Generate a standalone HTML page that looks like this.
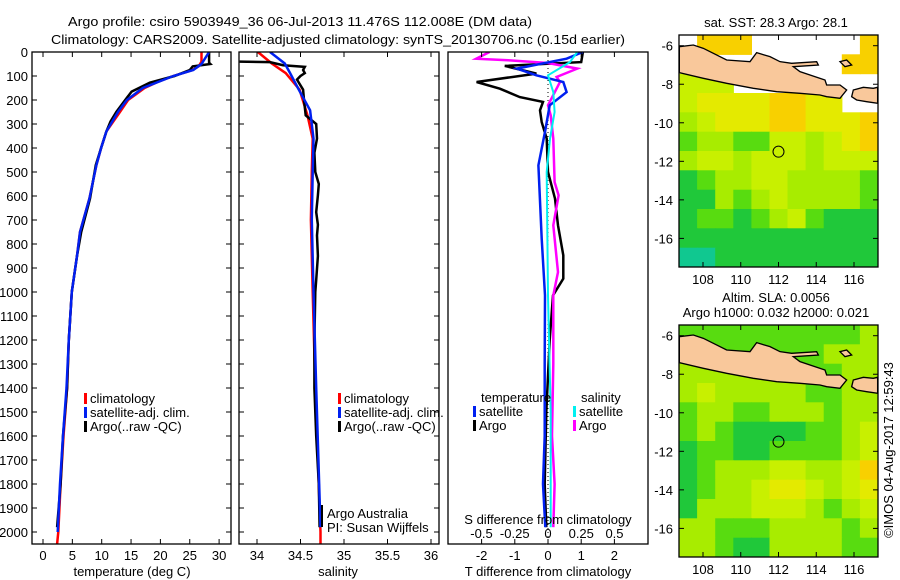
<!DOCTYPE html>
<html><head><meta charset="utf-8"><style>
body{margin:0;background:#fff;}
svg{display:block;font-family:"Liberation Sans",sans-serif;}
text{font-size:13px;fill:#000;}
</style></head><body>
<svg id="fig" width="900" height="580" viewBox="0 0 900 580">
<rect width="900" height="580" fill="#fff"/>
<text x="68" y="26" textLength="464" lengthAdjust="spacingAndGlyphs">Argo profile: csiro 5903949_36 06-Jul-2013 11.476S 112.008E (DM data)</text>
<text x="51" y="44" textLength="574" lengthAdjust="spacingAndGlyphs">Climatology: CARS2009. Satellite-adjusted climatology: synTS_20130706.nc (0.15d earlier)</text>
<g id="panels"></g>
<g id="maps"></g>
<text transform="translate(893,450) rotate(-90)" text-anchor="middle">©IMOS 04-Aug-2017 12:59:43</text>
</svg>
<script>
// ---------- data ----------
const depthTClim=[0,40,60,75,100,125,150,200,250,331,400,471,611,750,850,1000,1200,1400,1600,1800,2000,2050];
const tempClim=[27.0,27.0,26.5,25.5,22.2,19.5,17.3,14.5,13.1,10.8,9.9,9.1,7.9,6.3,5.8,4.9,4.4,4.1,3.5,3.0,2.6,2.4];
const depthTSat=[0,50,75,100,150,200,249,331,400,471,611,750,850,1000,1200,1400,1600,1800,2000];
const tempSat=[28.3,27.0,25.6,22.2,17.0,14.3,12.8,10.8,9.9,9.1,7.9,6.3,5.8,4.9,4.4,4.0,3.4,2.9,2.5];
const depthTArgo=[0,45,50,60,75,100,128,165,200,249,290,331,400,471,611,750,850,1000,1200,1400,1600,1800,1980];
const tempArgo=[28.3,28.3,28.5,25.5,25.0,22.4,18.2,15.1,14.0,12.5,11.5,10.8,9.9,9.0,8.0,6.5,5.8,4.9,4.4,4.1,3.4,3.0,2.4];

const depthSClim=[0,48,88,157,264,361,500,700,1000,1400,2000,2050];
const salClim=[34.01,34.17,34.33,34.49,34.58,34.64,34.63,34.62,34.64,34.67,34.73,34.73];
const depthSSat=[0,48,88,157,243,361,500,700,1000,1400,1980];
const salSat=[34.15,34.32,34.38,34.48,34.61,34.65,34.64,34.63,34.65,34.68,34.73];
const depthSArgo=[40,42,55,62,75,88,100,115,157,200,264,300,361,420,500,550,597,667,720,764,850,950,1000,1200,1400,1600,1800,1980];
const salArgo=[33.8,34.15,34.3,34.55,34.53,34.55,34.50,34.46,34.53,34.54,34.56,34.68,34.69,34.66,34.67,34.71,34.70,34.68,34.70,34.69,34.70,34.68,34.67,34.66,34.66,34.68,34.71,34.72];

const depthDTArgo=[0,42,58,90,125,153,188,208,243,292,361,500,611,722,847,944,1014,1200,1500,1800,1980];
const diffTArgo=[1.05,1.0,-1.3,-0.35,-2.15,-1.45,-0.85,-0.15,-0.24,-0.19,-0.04,0.0,0.21,0.3,0.46,0.46,0.15,0.05,-0.05,-0.1,-0.05];
const depthDTSat=[0,28,69,97,125,167,222,333,472,778,1014,1300,1600,1800,1980];
const diffTSat=[1.05,0.56,-0.94,-0.35,0.46,0.56,0.05,-0.09,-0.29,-0.19,-0.09,-0.1,-0.1,-0.15,-0.08];
const depthDSArgo=[0,28,34,46,69,104,125,222,264,361,542,597,722,917,1014,1300,1600,1800,1980];
const diffSArgo=[-0.44,-0.54,-0.3,0.0,0.22,0.065,0.09,0.0,0.02,0.04,0.05,0.08,0.04,0.075,0.04,0.04,0.03,0.05,0.04];
const depthDSSat=[0,42,97,167,250,361,500,1014,1500,1980];
const diffSSat=[0.22,0.165,0.0,0.04,0.05,0.015,-0.01,0.0,0.02,0.02];

const depthTicks=[0,100,200,300,400,500,600,700,800,900,1000,1100,1200,1300,1400,1500,1600,1700,1800,1900,2000];
const tempTicks=[0,5,10,15,20,25,30];
const salTicks=[34,34.5,35,35.5,36];
const salTickLabels=["34","34.5","35","35.5","36"];
const dTTicks=[-2,-1,0,1,2];
const dSTicks=[-0.5,-0.25,0,0.25,0.5];
const dSTickLabels=["-0.5","-0.25","0","0.25","0.5"];

const latTicks=[-6,-8,-10,-12,-14,-16];
const lonTicks=[108,110,112,114,116];
// SST grid classes (rows -6..-17 lat, cols 107..117 lon), -1 = no data
const sstGrid=[
[-1,6,6,6,-1,-1,-1,-1,-1,-1,6],
[-1,-1,-1,-1,-1,-1,-1,-1,-1,6,6],
[4,4,4,-1,-1,-1,-1,-1,-1,-1,-1],
[4,5,5,5,5,6,6,5,5,-1,-1],
[3,4,5,5,5,6,6,5,5,5,6],
[2,3,3,2,2,4,4,3,4,5,6],
[3,4,4,3,4,4,4,3,4,4,4],
[1,2,3,3,4,4,3,3,3,3,2],
[1,1,3,2,3,4,3,3,3,3,2],
[1,2,2,1,2,3,4,2,1,1,1],
[1,1,1,1,1,1,1,1,1,1,1],
[0,0,1,1,1,1,1,1,1,1,1]];
const slaGrid=[
[2,2,2,2,2,2,2,2,2,2,3],
[2,2,2,2,2,2,2,2,3,3,3],
[3,3,3,3,3,3,2,2,2,3,3],
[3,4,3,3,3,3,3,2,2,3,3],
[2,3,3,2,2,3,3,3,2,3,3],
[2,3,2,1,1,1,1,2,2,3,4],
[1,2,2,1,1,2,2,2,2,3,4],
[1,2,3,3,3,4,4,3,3,4,6],
[1,2,3,3,4,5,5,4,3,4,5],
[1,3,3,3,4,4,4,3,2,3,4],
[3,3,2,2,2,3,3,3,3,2,3],
[3,3,2,1,1,3,3,3,3,2,2]];
const palette=["#10c890","#20c83a","#58dc10","#a8ec00","#c8f000","#e4ea00","#f8d000","#f0a800"];

// ---------- helpers ----------
const NS="http://www.w3.org/2000/svg";
function mk(tag,attrs,parent){const e=document.createElementNS(NS,tag);for(const k in attrs)e.setAttribute(k,attrs[k]);parent.appendChild(e);return e;}
const panels=document.getElementById('panels');
const maps=document.getElementById('maps');
const TOP=52,BOT=544;
const yD=d=>TOP+d*0.24;

function drawLine(g,depths,vals,xf,color,w,name){
  const pts=depths.map((d,i)=>xf(vals[i]).toFixed(1)+','+yD(d).toFixed(1)).join(' ');
  const p=mk('polyline',{points:pts,fill:'none',stroke:color,'stroke-width':w,'stroke-linejoin':'miter'},g);
  
  
}
function panelBox(x0,x1,name){
  const g=mk('g',{},panels);
  
  
  const cid='clip'+name;
  const cp=mk('clipPath',{id:cid},g);mk('rect',{x:x0,y:TOP,width:x1-x0,height:BOT-TOP},cp);
  const inner=mk('g',{'clip-path':'url(#'+cid+')'},g);
  return {g,inner};
}
function legendItem(g,x,y,color,label,name){
  mk('rect',{x:x,y:y-10,width:3,height:11,fill:color},g);
  const t=mk('text',{x:x+6,y:y},g);t.textContent=label;
  
  
}

// ---------- panel 1: temperature ----------
(function(){
  const x0=32,x1=231,xT=v=>43+v*5.87;
  const {g,inner}=panelBox(x0,x1,'temperature-panel');
  drawLine(inner,depthTClim,tempClim,xT,'#f00',2.5,'temperature-climatology-line');
  drawLine(inner,depthTArgo,tempArgo,xT,'#000',2.5,'temperature-argo-line');
  drawLine(inner,depthTSat,tempSat,xT,'#0020f0',2.5,'temperature-satellite-line');
  mk('rect',{x:x0,y:TOP,width:x1-x0,height:BOT-TOP,fill:'none',stroke:'#000','stroke-width':1.3},g);
  depthTicks.forEach(d=>{
    mk('line',{x1:x0,x2:x0+5,y1:yD(d),y2:yD(d),stroke:'#000'},g);
    mk('line',{x1:x1,x2:x1-5,y1:yD(d),y2:yD(d),stroke:'#000'},g);
    const t=mk('text',{x:28,y:yD(d)+5,'text-anchor':'end'},g);t.textContent=d;
    
    
  });
  tempTicks.forEach(v=>{
    mk('line',{x1:xT(v),x2:xT(v),y1:BOT,y2:BOT-5,stroke:'#000'},g);
    mk('line',{x1:xT(v),x2:xT(v),y1:TOP,y2:TOP+5,stroke:'#000'},g);
    const t=mk('text',{x:xT(v),y:560,'text-anchor':'middle'},g);t.textContent=v;
    
    
  });
  const xl=mk('text',{x:132,y:576,'text-anchor':'middle'},g);xl.textContent='temperature (deg C)';
  
  
  legendItem(g,84,403,'#f00','climatology','legend-climatology');
  legendItem(g,84,417,'#0020f0','satellite-adj. clim.','legend-satellite-adj');
  legendItem(g,84,431,'#000','Argo(..raw -QC)','legend-argo');
})();

// ---------- panel 2: salinity ----------
(function(){
  const x0=239,x1=439,xS=v=>257+(v-34)*87;
  const {g,inner}=panelBox(x0,x1,'salinity-panel');
  drawLine(inner,depthSClim,salClim,xS,'#f00',2.5,'salinity-climatology-line');
  drawLine(inner,depthSArgo,salArgo,xS,'#000',2.5,'salinity-argo-line');
  drawLine(inner,depthSSat,salSat,xS,'#0020f0',2.5,'salinity-satellite-line');
  mk('rect',{x:x0,y:TOP,width:x1-x0,height:BOT-TOP,fill:'none',stroke:'#000','stroke-width':1.3},g);
  depthTicks.forEach(d=>{
    mk('line',{x1:x0,x2:x0+5,y1:yD(d),y2:yD(d),stroke:'#000'},g);
    mk('line',{x1:x1,x2:x1-5,y1:yD(d),y2:yD(d),stroke:'#000'},g);
  });
  salTicks.forEach((v,i)=>{
    mk('line',{x1:xS(v),x2:xS(v),y1:BOT,y2:BOT-5,stroke:'#000'},g);
    mk('line',{x1:xS(v),x2:xS(v),y1:TOP,y2:TOP+5,stroke:'#000'},g);
    const t=mk('text',{x:xS(v),y:560,'text-anchor':'middle'},g);t.textContent=salTickLabels[i];
    
    
  });
  const xl=mk('text',{x:338,y:576,'text-anchor':'middle'},g);xl.textContent='salinity';
  
  
  legendItem(g,338,403,'#f00','climatology','legend-climatology');
  legendItem(g,338,417,'#0020f0','satellite-adj. clim.','legend-satellite-adj');
  legendItem(g,338,431,'#000','Argo(..raw -QC)','legend-argo');
  mk('rect',{x:321,y:505,width:2,height:22,fill:'#000'},g);
  const a=mk('text',{x:327,y:518},g);a.textContent='Argo Australia';
  
  
  const b=mk('text',{x:327,y:532},g);b.textContent='PI: Susan Wijffels';
  
  
})();

// ---------- panel 3: differences ----------
(function(){
  const x0=448,x1=648,xT=v=>548+v*33.2,xS=v=>548+v*133;
  const {g,inner}=panelBox(x0,x1,'difference-panel');
  mk('line',{x1:548,x2:548,y1:TOP,y2:BOT,stroke:'#000','stroke-dasharray':'1,3'},inner);
  drawLine(inner,depthDTArgo,diffTArgo,xT,'#000',2.5,'temp-diff-argo-line');
  drawLine(inner,depthDSArgo,diffSArgo,xS,'#f0f',2.5,'sal-diff-argo-line');
  drawLine(inner,depthDTSat,diffTSat,xT,'#0020f0',2.5,'temp-diff-satellite-line');
  drawLine(inner,depthDSSat,diffSSat,xS,'#00f0f0',2,'sal-diff-satellite-line');
  mk('rect',{x:x0,y:TOP,width:x1-x0,height:BOT-TOP,fill:'none',stroke:'#000','stroke-width':1.3},g);
  dTTicks.forEach(v=>{
    mk('line',{x1:xT(v),x2:xT(v),y1:BOT,y2:BOT-5,stroke:'#000'},g);
    mk('line',{x1:xT(v),x2:xT(v),y1:TOP,y2:TOP+5,stroke:'#000'},g);
    const t=mk('text',{x:xT(v),y:560,'text-anchor':'middle'},g);t.textContent=v;
    
    
  });
  dSTicks.forEach((v,i)=>{
    const t=mk('text',{x:xS(v),y:538,'text-anchor':'middle'},g);t.textContent=dSTickLabels[i];
    
    
  });
  const s=mk('text',{x:548,y:524,'text-anchor':'middle'},g);s.textContent='S difference from climatology';
  
  
  const xl=mk('text',{x:548,y:576,'text-anchor':'middle'},g);xl.textContent='T difference from climatology';
  
  
  const t1=mk('text',{x:481,y:402},g);t1.textContent='temperature';
  
  
  const t2=mk('text',{x:581,y:402},g);t2.textContent='salinity';
  
  
  legendItem(g,473,416,'#0020f0','satellite','legend-temp-satellite');
  legendItem(g,473,430,'#000','Argo','legend-temp-argo');
  legendItem(g,573,416,'#00f0f0','satellite','legend-sal-satellite');
  legendItem(g,573,430,'#f0f','Argo','legend-sal-argo');
})();

// ---------- maps ----------
const JAVA="58,140 100,135 130,145 160,160 200,180 270,185 290,158 330,170 360,185 395,190 470,185 475,195 400,200 420,215 495,240 500,255 540,255 560,270 540,295 500,290 480,285 420,280 350,275 280,265 200,250 130,235 58,218";
const BALI="580,270 610,262 640,265 653,262 653,310 620,305 590,300 575,290";
const NORTH="540,185 560,180 575,195 555,200";
function drawMap(oy,grid,name,t1,t2){
  const g=mk('g',{},maps);
  
  
  const x0=679,x1=878,y0=oy+35,y1=oy+267;
  const lonX=l=>703+(l-108)*18.875;
  const latY=l=>oy+45.7+(-6-l)*19.27;
  const cw=(x1-x0)/11,ch=(y1-y0)/12;
  const cid='mclip'+oy;
  const cp=mk('clipPath',{id:cid},g);mk('rect',{x:x0,y:y0,width:x1-x0,height:y1-y0},cp);
  const inner=mk('g',{'clip-path':'url(#'+cid+')'},g);
  mk('rect',{x:x0,y:y0,width:x1-x0,height:y1-y0,fill:'#fff'},inner);
  grid.forEach((row,r)=>row.forEach((v,c)=>{
    if(v<0)return;
    const cell=mk('rect',{x:(x0+c*cw).toFixed(1),y:(y0+r*ch).toFixed(1),width:(cw+0.6).toFixed(1),height:(ch+0.6).toFixed(1),fill:palette[v]},inner);
    
    
  }));
  const land=mk('g',{transform:'translate(660,'+oy+') scale(0.3333)'},inner);
  [JAVA,BALI,NORTH].forEach(p=>mk('polygon',{points:p,fill:'#f9c89b',stroke:'#000','stroke-width':4},land));
  mk('rect',{x:x0,y:y0,width:x1-x0,height:y1-y0,fill:'none',stroke:'#000','stroke-width':1.3},g);
  const circ=mk('circle',{cx:lonX(112),cy:latY(-11.5),r:5.5,fill:'none',stroke:'#000','stroke-width':1},g);
  
  
  latTicks.forEach(l=>{
    mk('line',{x1:x0,x2:x0+5,y1:latY(l),y2:latY(l),stroke:'#000'},g);
    mk('line',{x1:x1,x2:x1-5,y1:latY(l),y2:latY(l),stroke:'#000'},g);
    const t=mk('text',{x:673,y:latY(l)+5,'text-anchor':'end'},g);t.textContent=l;
    
    
  });
  lonTicks.forEach(l=>{
    mk('line',{x1:lonX(l),x2:lonX(l),y1:y1,y2:y1-5,stroke:'#000'},g);
    mk('line',{x1:lonX(l),x2:lonX(l),y1:y0,y2:y0+5,stroke:'#000'},g);
    const t=mk('text',{x:lonX(l),y:oy+284,'text-anchor':'middle'},g);t.textContent=l;
    
    
  });
  if(t1){const t=mk('text',{x:776,y:oy+(t2?12:27),'text-anchor':'middle'},g);t.textContent=t1;
    
    }
  if(t2){const t=mk('text',{x:776,y:oy+27,'text-anchor':'middle'},g);t.textContent=t2;
    
    }
}
drawMap(0,sstGrid,'sst-map','sat. SST: 28.3 Argo: 28.1',null);
drawMap(290,slaGrid,'sla-map','Altim. SLA: 0.0056','Argo h1000: 0.032 h2000: 0.021');
</script>
</body></html>
